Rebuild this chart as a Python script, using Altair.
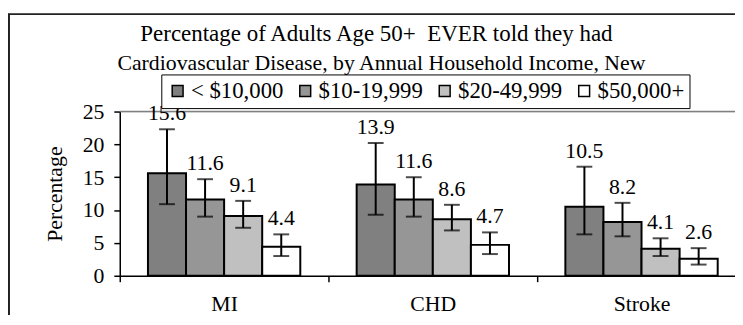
import altair as alt
import pandas as pd

# ---- data ----
categories = ["MI", "CHD", "Stroke"]
income_groups = ["< $10,000", "$10-19,999", "$20-49,999", "$50,000+"]
bar_colors = ["#808080", "#969696", "#c0c0c0", "#ffffff"]

pct_mi = [15.6, 11.6, 9.1, 4.4]
pct_chd = [13.9, 11.6, 8.6, 4.7]
pct_stroke = [10.5, 8.2, 4.1, 2.6]

lo_mi = [10.9, 9.0, 7.3, 3.0]
lo_chd = [9.3, 9.0, 6.9, 3.3]
lo_stroke = [6.3, 6.0, 3.0, 1.7]

hi_mi = [22.3, 14.7, 11.4, 6.3]
hi_chd = [20.2, 15.0, 10.8, 6.6]
hi_stroke = [16.6, 11.1, 5.7, 4.2]

y_ticks = [0, 5, 10, 15, 20, 25]
title_lines = [
    "Percentage of Adults Age 50+\u00a0 EVER told they had",
    "Cardiovascular Disease, by Annual Household Income, New",
]
y_title = "Percentage"

# ---- build table ----
rows = []
for cat, p, lo, hi in [
    ("MI", pct_mi, lo_mi, hi_mi),
    ("CHD", pct_chd, lo_chd, hi_chd),
    ("Stroke", pct_stroke, lo_stroke, hi_stroke),
]:
    for g, pv, lv, hv in zip(income_groups, p, lo, hi):
        rows.append({"disease": cat, "income": g, "pct": pv, "lo": lv, "hi": hv})
df = pd.DataFrame(rows)

FONT = "Liberation Serif"

x_enc = alt.X(
    "disease:N",
    sort=categories,
    scale=alt.Scale(range=[0, 633], paddingInner=0, paddingOuter=0),
    axis=alt.Axis(
        title=None,
        labelFont=FONT,
        labelFontSize=22,
        labelColor="black",
        labelPadding=12,
        labelAngle=0,
        tickSize=6,
        tickBand="extent",
        domainColor="black",
        tickColor="black",
        domainWidth=1.5,
        tickWidth=1.5,
    ),
)
xo_enc = alt.XOffset(
    "income:N", sort=income_groups, scale=alt.Scale(paddingInner=0, paddingOuter=0.74)
)
y_scale = alt.Scale(domain=[0, 25], nice=False)
y_axis = alt.Axis(
    title=y_title,
    values=y_ticks,
    grid=False,
    labelFont=FONT,
    labelFontSize=22,
    labelColor="black",
    labelPadding=10,
    tickSize=6,
    domainColor="black",
    tickColor="black",
    domainWidth=1.5,
    tickWidth=1.5,
    titleFont=FONT,
    titleFontSize=22,
    titleFontWeight="normal",
    titleColor="black",
    titlePadding=16,
)

base = alt.Chart(df)

bars = base.mark_bar(stroke="black", strokeWidth=2, opacity=1).encode(
    x=x_enc,
    xOffset=xo_enc,
    y=alt.Y("pct:Q", scale=y_scale, axis=y_axis),
    fill=alt.Fill(
        "income:N",
        sort=income_groups,
        scale=alt.Scale(domain=income_groups, range=bar_colors),
        legend=alt.Legend(
            title=None,
            orient="none",
            legendX=42,
            legendY=-37.5,
            direction="horizontal",
            strokeColor="black",
            fillColor="white",
            padding=5,
            symbolType="square",
            symbolSize=121,
            symbolStrokeColor="black",
            symbolStrokeWidth=1.5,
            symbolOpacity=1,
            labelFont=FONT,
            labelFontSize=23,
            labelColor="black",
            labelOffset=2,
            columnPadding=10,
        ),
    ),
)

err = base.mark_rule(color="black", strokeWidth=2).encode(
    x=x_enc,
    xOffset=xo_enc,
    y=alt.Y("lo:Q", scale=y_scale, axis=y_axis),
    y2="hi:Q",
)
cap_lo = base.mark_tick(color="black", thickness=2, size=16, orient="horizontal").encode(
    x=x_enc, xOffset=xo_enc, y=alt.Y("lo:Q", scale=y_scale, axis=y_axis)
)
cap_hi = base.mark_tick(color="black", thickness=2, size=16, orient="horizontal").encode(
    x=x_enc, xOffset=xo_enc, y=alt.Y("hi:Q", scale=y_scale, axis=y_axis)
)
labels = base.mark_text(
    font=FONT, fontSize=22, dy=-9, baseline="alphabetic", color="black"
).encode(
    x=x_enc,
    xOffset=xo_enc,
    y=alt.Y("hi:Q", scale=y_scale, axis=y_axis),
    text=alt.Text("pct:Q", format=".1f"),
)

deco = alt.Chart(pd.DataFrame({"k": [0]}))
title1 = deco.mark_text(font=FONT, fontSize=23.2, color="black", baseline="alphabetic", align="center").encode(
    text=alt.value(title_lines[0]), x=alt.value(259.5), y=alt.value(-71.7)
)
title2 = deco.mark_text(font=FONT, fontSize=22, color="black", baseline="alphabetic", align="center").encode(
    text=alt.value(title_lines[1]), x=alt.value(264.5), y=alt.value(-42)
)
plot_top = deco.mark_rule(color="#808080", strokeWidth=1.5).encode(
    x=alt.value(0), x2=alt.value(700), y=alt.value(0)
)
frame_left = deco.mark_rule(color="#222222", strokeWidth=2).encode(
    x=alt.value(-112), y=alt.value(-99), y2=alt.value(260)
)
frame_top = deco.mark_rule(color="#222222", strokeWidth=2).encode(
    x=alt.value(-113), x2=alt.value(700), y=alt.value(-98.5)
)

chart = (
    alt.layer(plot_top, bars, err, cap_lo, cap_hi, labels, title1, title2, frame_left, frame_top)
    .properties(
        width=622,
        height=166,
        autosize=alt.AutoSizeParams(type="none"),
        padding={"left": 113, "top": 103, "right": 0, "bottom": 38},
    )
    .configure_view(stroke=None)
    .configure(font=FONT)
    .configure_axis(labelFont=FONT, titleFont=FONT)
    .configure_legend(labelFont=FONT)
    .configure_text(font=FONT)
)

chart.save("out.html", embed_options={"renderer": "svg", "actions": False})
